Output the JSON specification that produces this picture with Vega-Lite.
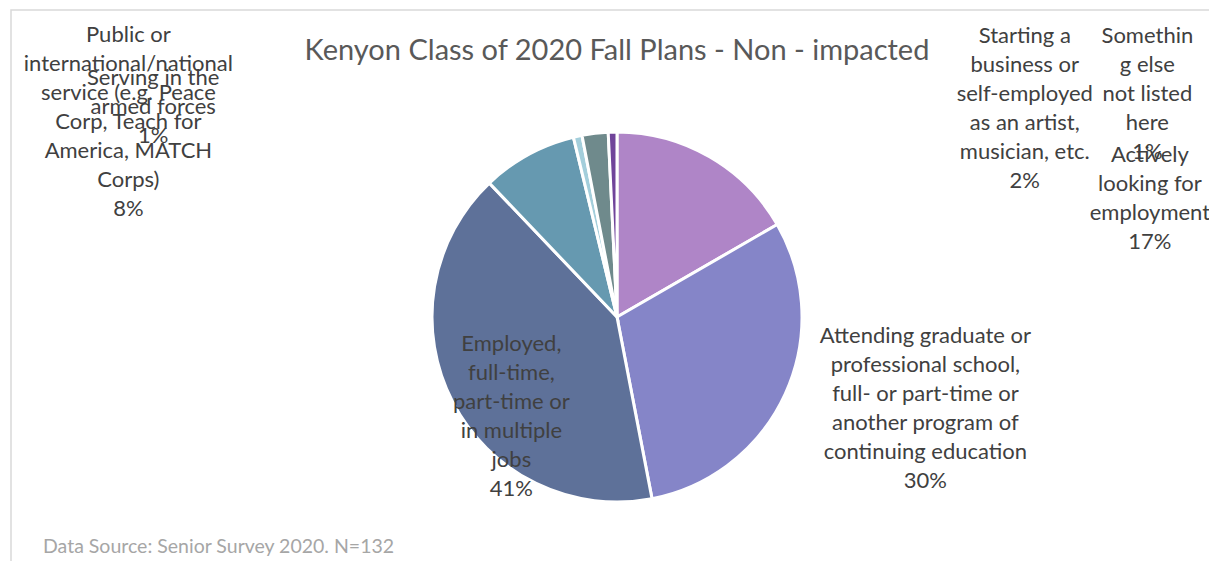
{
  "$schema": "https://vega.github.io/schema/vega-lite/v6.json",
  "autosize": "none",
  "padding": {"left": 11, "top": 10, "right": 0, "bottom": 0},
  "width": 1212,
  "height": 614,
  "background": "white",
  "view": {"stroke": "#D9D9D9", "strokeWidth": 1.5, "fill": "white"},
  "config": {
    "view": {"stroke": "#D9D9D9", "strokeWidth": 1.5},
    "font": "Lato"
  },
  "data": {
    "values": [
      {"order": 1, "category": "Actively looking for employment", "count": 22, "label": "Actively\nlooking for\nemployment\n17%"},
      {"order": 2, "category": "Attending graduate or professional school", "count": 40, "label": "Attending graduate or\nprofessional school,\nfull- or part-time or\nanother program of\ncontinuing education\n30%"},
      {"order": 3, "category": "Employed", "count": 54, "label": "Employed,\nfull-time,\npart-time or\nin multiple\njobs\n41%"},
      {"order": 4, "category": "Public or international/national service", "count": 11, "label": "Public or\ninternational/national\nservice (e.g. Peace\nCorp, Teach for\nAmerica, MATCH\nCorps)\n8%"},
      {"order": 5, "category": "Serving in the armed forces", "count": 1, "label": "Serving in the\narmed forces\n1%"},
      {"order": 6, "category": "Starting a business or self-employed", "count": 3, "label": "Starting a\nbusiness or\nself-employed\nas an artist,\nmusician, etc.\n2%"},
      {"order": 7, "category": "Something else not listed here", "count": 1, "label": "Somethin\ng else\nnot listed\nhere\n1%"}
    ]
  },
  "encoding": {
    "theta": {"field": "count", "type": "quantitative", "stack": true},
    "order": {"field": "order", "type": "quantitative", "sort": "ascending"}
  },
  "layer": [
    {
      "mark": {"type": "arc", "outerRadius": 185, "stroke": "white", "strokeWidth": 3},
      "encoding": {
        "color": {
          "field": "category",
          "type": "nominal",
          "legend": null,
          "scale": {
            "domain": ["Actively looking for employment", "Attending graduate or professional school", "Employed", "Public or international/national service", "Serving in the armed forces", "Starting a business or self-employed", "Something else not listed here"],
            "range": ["#AF85C7", "#8585C8", "#5E7199", "#6699B0", "#A3CEDB", "#6F8A8C", "#70449A"]
          }
        }
      }
    },
    {
      "mark": {"type": "text", "radius": 557, "thetaOffset": 0.752, "fontSize": 22, "lineHeight": 29, "lineBreak": "\n", "color": "#404040", "align": "center", "baseline": "middle"},
      "encoding": {"text": {"condition": {"test": "datum.order === 1", "field": "label"}, "value": ""}}
    },
    {
      "mark": {"type": "text", "radius": 309, "thetaOffset": -0.366, "fontSize": 22, "lineHeight": 29, "lineBreak": "\n", "color": "#404040", "align": "center", "baseline": "middle"},
      "encoding": {"text": {"condition": {"test": "datum.order === 2", "field": "label"}, "value": ""}}
    },
    {
      "mark": {"type": "text", "radius": 109, "thetaOffset": 0.227, "fontSize": 22, "lineHeight": 29, "lineBreak": "\n", "color": "#404040", "align": "center", "baseline": "middle"},
      "encoding": {"text": {"condition": {"test": "datum.order === 3", "field": "label"}, "value": ""}}
    },
    {
      "mark": {"type": "text", "radius": 564, "thetaOffset": -0.548, "fontSize": 22, "lineHeight": 29, "lineBreak": "\n", "color": "#404040", "align": "center", "baseline": "middle"},
      "encoding": {"text": {"condition": {"test": "datum.order === 4", "field": "label"}, "value": ""}}
    },
    {
      "mark": {"type": "text", "radius": 522, "thetaOffset": -0.88, "fontSize": 22, "lineHeight": 29, "lineBreak": "\n", "color": "#404040", "align": "center", "baseline": "middle"},
      "encoding": {"text": {"condition": {"test": "datum.order === 5", "field": "label"}, "value": ""}}
    },
    {
      "mark": {"type": "text", "radius": 495, "thetaOffset": 1.087, "fontSize": 22, "lineHeight": 29, "lineBreak": "\n", "color": "#404040", "align": "center", "baseline": "middle"},
      "encoding": {"text": {"condition": {"test": "datum.order === 6", "field": "label"}, "value": ""}}
    },
    {
      "mark": {"type": "text", "radius": 600, "thetaOffset": 1.108, "fontSize": 22, "lineHeight": 29, "lineBreak": "\n", "color": "#404040", "align": "center", "baseline": "middle"},
      "encoding": {"text": {"condition": {"test": "datum.order === 7", "field": "label"}, "value": ""}}
    },
    {
      "data": {"values": [{"title": "Kenyon Class of 2020 Fall Plans - Non - impacted"}]},
      "mark": {"type": "text", "x": {"expr": "width/2"}, "y": 50, "align": "center", "baseline": "alphabetic", "fontSize": 29, "color": "#595959"},
      "encoding": {"text": {"field": "title", "type": "nominal"}, "theta": null, "order": null}
    },
    {
      "data": {"values": [{"note": "Data Source: Senior Survey 2020. N=132"}]},
      "mark": {"type": "text", "x": 32, "y": 543, "align": "left", "baseline": "alphabetic", "fontSize": 19.5, "color": "#A6A6A6"},
      "encoding": {"text": {"field": "note", "type": "nominal"}, "theta": null, "order": null}
    }
  ]
}
